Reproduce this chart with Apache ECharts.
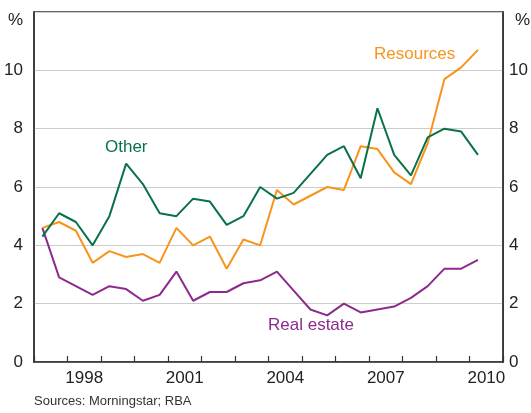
<!DOCTYPE html>
<html>
<head>
<meta charset="utf-8">
<script src="https://cdn.jsdelivr.net/npm/echarts@6/dist/echarts.min.js"></script>
<style>
  html, body { margin: 0; padding: 0; background: #fff; }
  #chart { width: 531px; height: 413px; }
</style>
</head>
<body>
<div id="chart"></div>
<script>
// half-yearly observations, first half of 1997 to first half of 2010
const startYear = 1997;
const years = ["1997", "1998", "1999", "2000", "2001", "2002", "2003", "2004", "2005", "2006", "2007", "2008", "2009", "2010"];
const otherVals = [4.3, 5.1, 4.8, 4.0, 5.0, 6.8, 6.1, 5.1, 5.0, 5.6, 5.5, 4.7, 5.0, 6.0, 5.6, 5.8, 6.45, 7.1, 7.4, 6.3, 8.7, 7.1, 6.4, 7.7, 8.0, 7.9, 7.1];
const resourcesVals = [4.6, 4.8, 4.5, 3.4, 3.8, 3.6, 3.7, 3.4, 4.6, 4.0, 4.3, 3.2, 4.2, 4.0, 5.9, 5.4, 5.7, 6.0, 5.9, 7.4, 7.3, 6.5, 6.1, 7.5, 9.7, 10.1, 10.7];
const realEstateVals = [4.6, 2.9, 2.6, 2.3, 2.6, 2.5, 2.1, 2.3, 3.1, 2.1, 2.4, 2.4, 2.7, 2.8, 3.1, 2.45, 1.8, 1.6, 2.0, 1.7, 1.8, 1.9, 2.2, 2.6, 3.2, 3.2, 3.5];
const yTicks = [0, 2, 4, 6, 8, 10, 12];

const font = "'Liberation Sans', Arial, sans-serif";
const textColor = "#222";
const axisColor = "#333";

const toPoints = vals => vals.map((v, i) => [startYear + 0.25 + i * 0.5, v]);

const chart = echarts.init(document.getElementById("chart"), null, { renderer: "canvas" });

const yAxisBase = {
  type: "value",
  min: yTicks[0],
  max: yTicks[yTicks.length - 1],
  interval: 2,
  axisLine: { show: true, lineStyle: { color: axisColor, width: 1.5 } },
  axisTick: { show: false },
  splitLine: { show: true, lineStyle: { color: "#cccccc", width: 1 } },
  axisLabel: {
    color: textColor,
    fontSize: 17,
    fontFamily: font,
    formatter: v => (v === 12 ? "" : String(v)),
  },
};

chart.setOption({
  animation: false,
  grid: {
    left: 34, right: 23, top: 12, bottom: 51,
    show: true, borderColor: axisColor, borderWidth: 1.5,
  },
  xAxis: [
    {
      type: "value",
      min: 1997,
      max: 2011,
      interval: 1,
      axisLine: { show: true, lineStyle: { color: axisColor, width: 1.5 } },
      axisTick: { show: true, inside: true, length: 6, lineStyle: { color: axisColor, width: 1.2 } },
      axisLabel: { show: false },
      splitLine: { show: false },
    },
    {
      type: "category",
      data: years,
      position: "bottom",
      boundaryGap: true,
      axisLine: { show: false },
      axisTick: { show: false },
      splitLine: { show: false },
      axisLabel: {
        interval: i => i % 3 === 1,
        color: textColor,
        fontSize: 17,
        fontFamily: font,
        margin: 8,
      },
    },
  ],
  yAxis: [
    Object.assign({}, yAxisBase, { position: "left", axisLabel: Object.assign({}, yAxisBase.axisLabel, { margin: 11 }) }),
    Object.assign({}, yAxisBase, {
      position: "right",
      splitLine: { show: false },
      axisLabel: Object.assign({}, yAxisBase.axisLabel, { margin: 6 }),
    }),
  ],
  series: [
    {
      name: "Real estate",
      type: "line",
      data: toPoints(realEstateVals),
      showSymbol: false,
      lineStyle: { color: "#8c2a8e", width: 2 },
      itemStyle: { color: "#8c2a8e" },
    },
    {
      name: "Resources",
      type: "line",
      data: toPoints(resourcesVals),
      showSymbol: false,
      lineStyle: { color: "#f7941d", width: 2 },
      itemStyle: { color: "#f7941d" },
    },
    {
      name: "Other",
      type: "line",
      data: toPoints(otherVals),
      showSymbol: false,
      lineStyle: { color: "#0a7148", width: 2 },
      itemStyle: { color: "#0a7148" },
    },
  ],
  graphic: [
    { type: "text", left: 8, top: 12, style: { text: "%", fill: textColor, font: "17px " + font } },
    { type: "text", left: 515, top: 12, style: { text: "%", fill: textColor, font: "17px " + font } },
    { type: "text", left: 105, top: 139, style: { text: "Other", fill: "#0a7148", font: "17px " + font } },
    { type: "text", left: 374, top: 46, style: { text: "Resources", fill: "#f7941d", font: "17px " + font } },
    { type: "text", left: 268, top: 317, style: { text: "Real estate", fill: "#8c2a8e", font: "17px " + font } },
    { type: "text", left: 34, top: 395, style: { text: "Sources: Morningstar; RBA", fill: "#333", font: "13px " + font } },
  ],
});
</script>
</body>
</html>
